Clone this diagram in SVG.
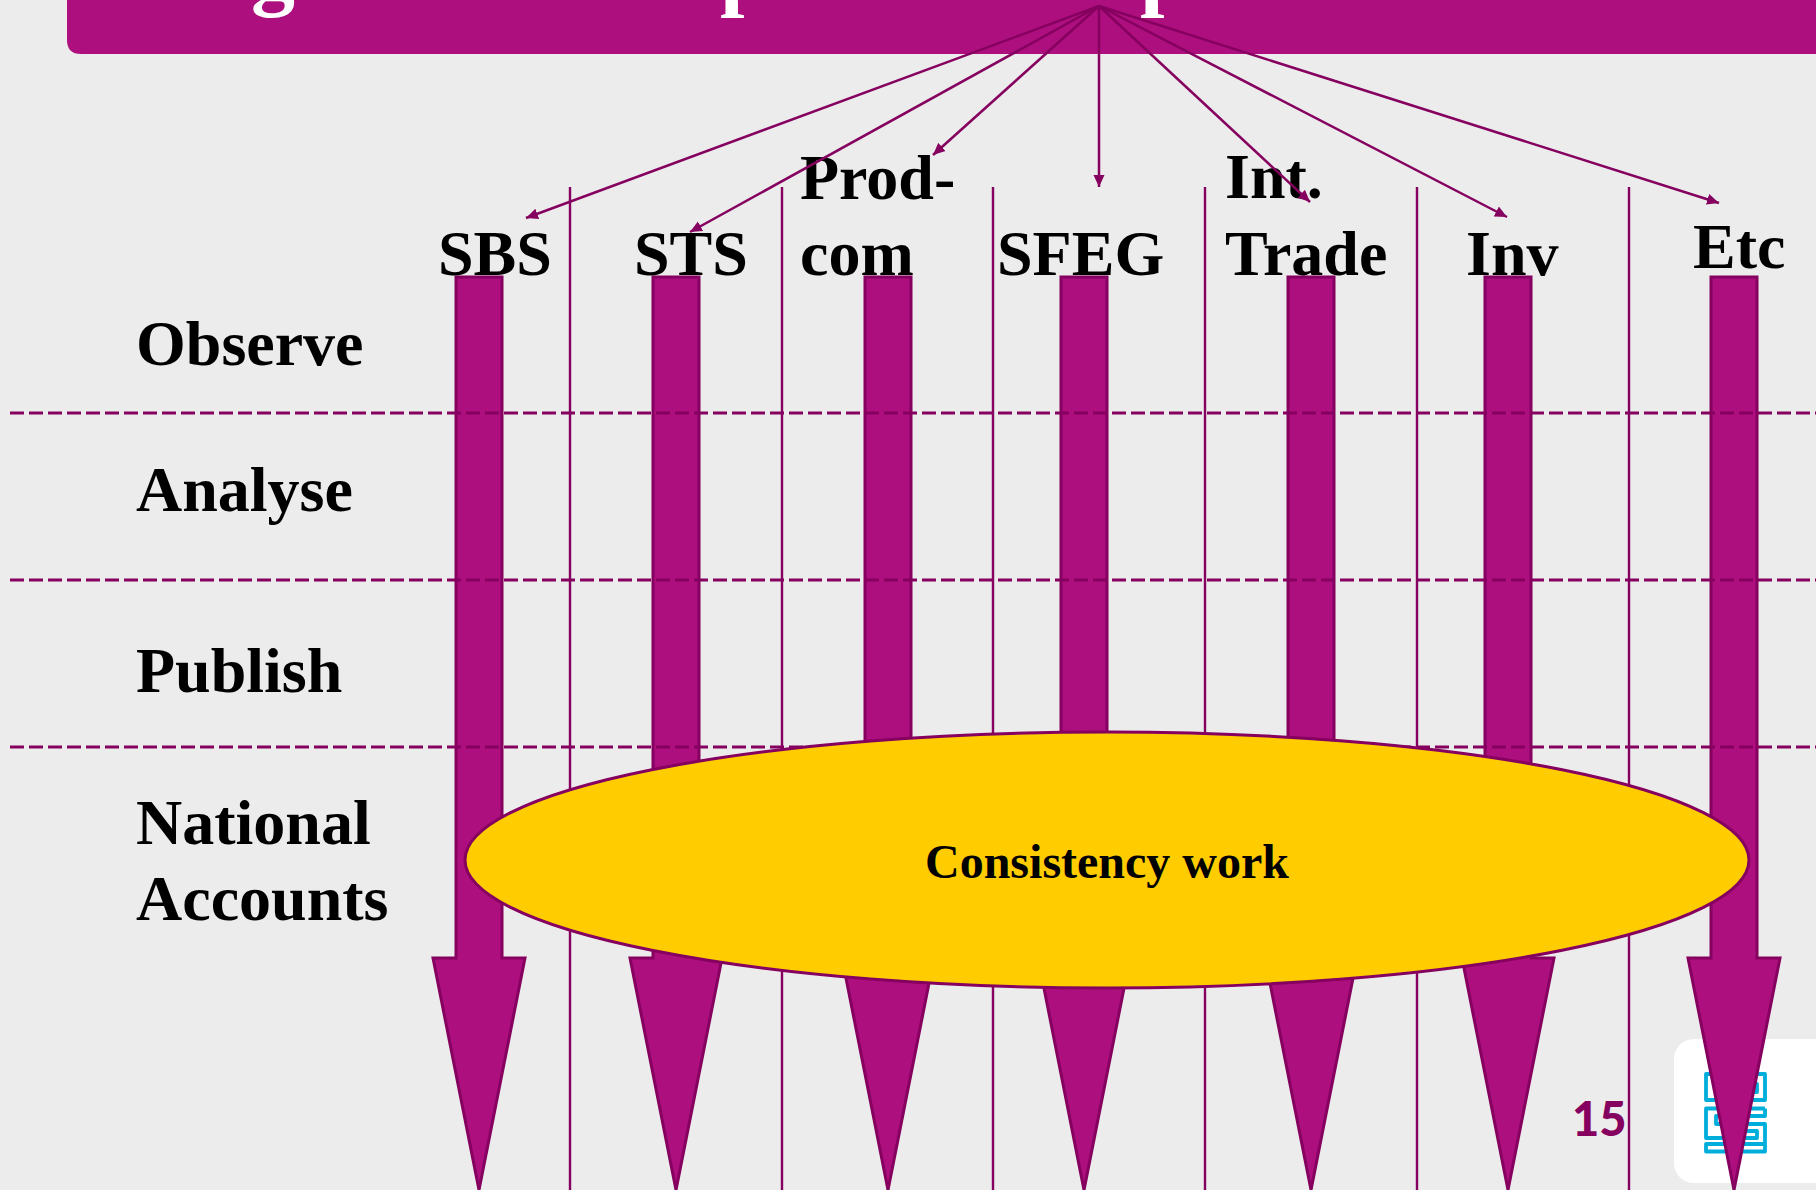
<svg xmlns="http://www.w3.org/2000/svg" width="1816" height="1190" viewBox="0 0 1816 1190">
<style>
.lab{font-family:"Liberation Serif","Times New Roman",serif;font-weight:700;font-size:64px;fill:#000}
.head{font-family:"Liberation Serif","Times New Roman",serif;font-weight:700;font-size:88px;fill:#fff}
.v{stroke:#85005f;stroke-width:2.4;fill:none}
.d{stroke:#85005f;stroke-width:3;fill:none;stroke-dasharray:14 5}
.c{stroke:#85005f;stroke-width:2.5;fill:none;marker-end:url(#ah)}
.arr{fill:#ae0f7e;stroke:#85005f;stroke-width:3}
.logo{fill:none;stroke:#00aedb;stroke-width:3.8;stroke-linejoin:round}
</style>
<defs>
<marker id="ah" markerUnits="userSpaceOnUse" markerWidth="14" markerHeight="12" refX="12" refY="6" orient="auto"><path d="M0 0.5L12 6L0 11.5Z" fill="#85005f"/></marker>
<path id="bar" class="arr" d="M-23 0H23V681H46L0 913L-46 681H-23Z"/>
</defs>
<rect width="1816" height="1190" fill="#ececec"/>
<g id="header">
<path d="M67 -20H1816V54H81Q67 54 67 40Z" fill="#ae0f7e"/>
<text class="head" x="251" y="-1">g</text>
<text class="head" x="720" y="-1">p</text>
<text class="head" x="1140" y="-1">p</text>
</g>
<g id="logo">
<rect x="1674" y="1039" width="170" height="144" rx="20" fill="#fff"/>
<path class="logo" d="M1706 1074H1765V1100H1706ZM1716 1084H1757V1092H1742"/>
<path class="logo" d="M1765 1108.500H1706V1138H1757V1131H1742M1765 1108.500V1116H1716V1124H1765V1144H1706V1151.500H1765V1144"/>
</g>
<text id="page" x="1572" y="1136" font-family="Lato,'Open Sans',sans-serif" font-weight="900" font-size="47" fill="#85005f">15</text>
<g id="columns">
<path class="v" d="M570 187V1190M782 187V1190M993 187V1190M1205 187V1190M1417 187V1190M1629 187V1190"/>
</g>
<g id="streams">
<use href="#bar" x="479" y="277"/>
<use href="#bar" x="676" y="277"/>
<use href="#bar" x="888" y="277"/>
<use href="#bar" x="1084" y="277"/>
<use href="#bar" x="1311" y="277"/>
<use href="#bar" x="1508" y="277"/>
<use href="#bar" x="1734" y="277"/>
</g>
<g id="phases">
<path class="d" d="M10 413H1816M10 580H1816M10 747H1816"/>
</g>
<g id="consistency">
<ellipse cx="1107" cy="860" rx="642" ry="128" fill="#ffcc00" stroke="#85005f" stroke-width="3"/>
<text class="lab" x="925" y="878" style="font-size:48px">Consistency work</text>
</g>
<g id="labels">
<text class="lab" x="136" y="365">Observe</text>
<text class="lab" x="136" y="511">Analyse</text>
<text class="lab" x="136" y="692">Publish</text>
<text class="lab" x="136" y="844">National</text>
<text class="lab" x="136" y="920">Accounts</text>
</g>
<g id="sources">
<text class="lab" x="438" y="275">SBS</text>
<text class="lab" x="634" y="275">STS</text>
<text class="lab" x="800" y="199">Prod-</text>
<text class="lab" x="800" y="275">com</text>
<text class="lab" x="997" y="275">SFEG</text>
<text class="lab" x="1225" y="198">Int.</text>
<text class="lab" x="1225" y="275">Trade</text>
<text class="lab" x="1466" y="275">Inv</text>
<text class="lab" x="1693" y="268">Etc</text>
</g>
<g id="connectors">
<path class="c" d="M1099 6L526 218"/>
<path class="c" d="M1099 6L690 232"/>
<path class="c" d="M1099 6L933 155"/>
<path class="c" d="M1099 6V187"/>
<path class="c" d="M1099 6L1310 202"/>
<path class="c" d="M1099 6L1507 217"/>
<path class="c" d="M1099 6L1719 203"/>
</g>
</svg>
